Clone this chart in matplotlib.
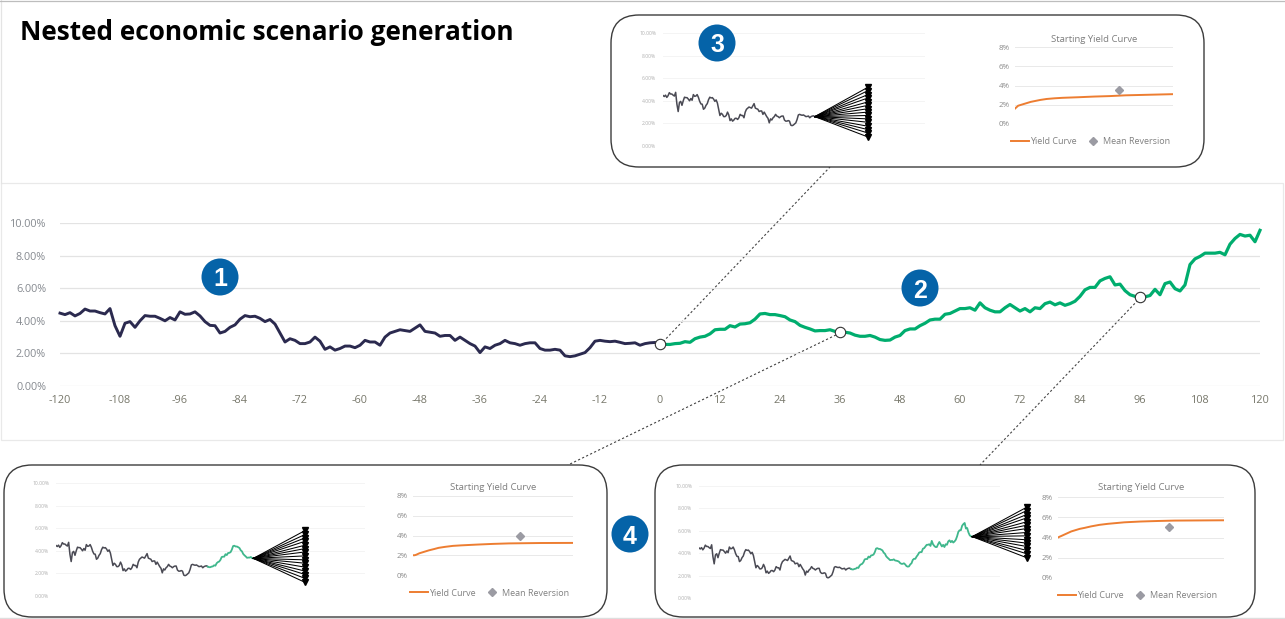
import matplotlib
matplotlib.use("Agg")
import matplotlib.pyplot as plt
import matplotlib.patches as patches
import numpy as np

# monthly short rate path, history then projection (percent)
hist_months = list(range(-120, 1))
hist_rate = [4.47, 4.38, 4.50, 4.30, 4.45, 4.72, 4.60, 4.60, 4.50, 4.42, 4.75, 3.70,
             3.05, 3.85, 3.95, 3.60, 4.00, 4.32, 4.28, 4.28, 4.15, 4.00, 4.20, 4.05,
             4.55, 4.40, 4.42, 4.55, 4.30, 3.95, 3.72, 3.70, 3.25, 3.35, 3.60, 3.75,
             4.10, 4.32, 4.25, 4.28, 4.15, 3.95, 4.08, 3.80, 3.25, 2.70, 2.90, 2.80,
             2.60, 2.60, 2.70, 3.00, 2.75, 2.25, 2.40, 2.20, 2.30, 2.45, 2.45, 2.35,
             2.50, 2.80, 2.70, 2.70, 2.50, 3.00, 3.25, 3.35, 3.45, 3.40, 3.35, 3.55,
             3.75, 3.35, 3.30, 3.25, 3.05, 3.10, 3.10, 2.80, 3.00, 2.80, 2.60, 2.45,
             2.05, 2.40, 2.30, 2.50, 2.60, 2.80, 2.65, 2.60, 2.50, 2.60, 2.65, 2.65,
             2.30, 2.20, 2.20, 2.25, 2.20, 1.85, 1.80, 1.85, 1.95, 2.05, 2.35, 2.75,
             2.80, 2.75, 2.72, 2.75, 2.68, 2.60, 2.62, 2.65, 2.50, 2.60, 2.65, 2.67,
             2.60]
proj_months = list(range(0, 121))
proj_rate = [2.60, 2.55, 2.55, 2.60, 2.62, 2.72, 2.68, 2.90, 3.00, 3.05, 3.20, 3.45,
             3.48, 3.48, 3.70, 3.62, 3.80, 3.82, 3.88, 4.10, 4.42, 4.45, 4.38, 4.38,
             4.32, 4.25, 4.05, 3.95, 3.72, 3.60, 3.50, 3.38, 3.40, 3.40, 3.45, 3.35,
             3.33, 3.30, 3.25, 3.12, 3.05, 3.05, 3.10, 3.00, 2.85, 2.80, 2.82, 3.00,
             3.10, 3.40, 3.50, 3.50, 3.70, 3.85, 4.05, 4.10, 4.10, 4.40, 4.45, 4.60,
             4.75, 4.75, 4.80, 4.65, 5.10, 4.80, 4.65, 4.55, 4.55, 4.80, 5.00, 4.80,
             4.60, 4.75, 4.55, 4.80, 4.75, 5.05, 5.15, 4.98, 5.10, 4.95, 5.05, 5.20,
             5.50, 5.90, 6.05, 6.05, 6.45, 6.60, 6.70, 6.20, 6.25, 5.85, 5.60, 5.50,
             5.48, 5.47, 5.55, 5.93, 5.60, 6.28, 6.38, 5.97, 5.83, 6.20, 7.45, 7.80,
             7.95, 8.15, 8.15, 8.15, 8.20, 8.05, 8.70, 9.05, 9.30, 9.20, 9.25, 8.85,
             9.55]

# nodes where the nested scenarios branch off
node_months = [0, 36, 96]

main_yticks = [0, 2, 4, 6, 8, 10]
main_ylabels = ["0.00%", "2.00%", "4.00%", "6.00%", "8.00%", "10.00%"]
main_xticks = list(range(-120, 121, 12))

# fan end values of the inner scenarios at each node
fan_ends_0 = [5.2, 4.9, 4.55, 4.25, 3.9, 3.6, 3.3, 3.0, 2.7, 2.4, 2.1, 1.75, 1.45, 1.15, 0.8]
fan_ends_36 = [5.8, 5.45, 5.15, 4.85, 4.5, 4.2, 3.9, 3.55, 3.2, 2.9, 2.55, 2.2, 1.9, 1.55, 1.2]
fan_ends_96 = [8.1, 7.8, 7.45, 7.15, 6.8, 6.5, 6.2, 5.85, 5.55, 5.2, 4.9, 4.6, 4.25, 3.95, 3.6]

# starting yield curves, one per node
curve_terms = [0, 1, 2, 4, 6, 8, 10, 13, 16, 20, 25, 30, 40, 50, 60, 70, 80, 100]
curve_0 = [1.6, 1.75, 1.9, 2.0, 2.1, 2.2, 2.3, 2.4, 2.5, 2.6, 2.67, 2.72, 2.78, 2.85, 2.9, 2.98, 3.02, 3.1]
curve_36 = [2.0, 2.0, 2.05, 2.2, 2.3, 2.4, 2.5, 2.62, 2.75, 2.85, 2.95, 3.0, 3.08, 3.15, 3.2, 3.22, 3.24, 3.25]
curve_96 = [4.0, 4.08, 4.15, 4.3, 4.45, 4.6, 4.7, 4.85, 4.95, 5.1, 5.25, 5.35, 5.5, 5.58, 5.63, 5.67, 5.68, 5.7]
curve_ticks = [0, 2, 4, 6, 8]
curve_labels = ["0%", "2%", "4%", "6%", "8%"]
mean_term = [66, 67, 67]
mean_level = [3.5, 4.0, 5.0]

W, H = 1285, 619
NAVY = "#2b2a4f"
GREEN = "#00ad6e"
FADED_GREEN = "#3fb78c"
BLUE = "#0563a8"
ORANGE = "#ed7d31"
GRID = "#e3e3e3"

plt.rcParams["font.family"] = ["Open Sans", "DejaVu Sans"]

fig = plt.figure(figsize=(W / 100, H / 100), dpi=100, facecolor="white")


def px_axes(x0, y0, x1, y1):
    # axes placed with pixel edges, y measured from the top
    return fig.add_axes([x0 / W, 1 - y1 / H, (x1 - x0) / W, (y1 - y0) / H])


# overlay in pixel units for boxes, leader lines and badges
back = fig.add_axes([0, 0, 1, 1], zorder=0)
back.set_xlim(0, W)
back.set_ylim(H, 0)
back.axis("off")

front = fig.add_axes([0, 0, 1, 1], zorder=10)
front.set_xlim(0, W)
front.set_ylim(H, 0)
front.axis("off")
front.patch.set_alpha(0)

badges = fig.add_axes([0, 0, 1, 1], zorder=20)
badges.set_xlim(0, W)
badges.set_ylim(H, 0)
badges.axis("off")
badges.patch.set_alpha(0)

# faint slide panels
back.add_patch(patches.Rectangle((1, 183), 1282, 257, fc="none", ec="#e9e9e9", lw=0.9))
back.plot([1, 1], [0, 183], color="#e4e4e4", lw=0.9)
back.plot([0, W], [0.5, 0.5], color="#bdbdbd", lw=0.9)
back.plot([0, W], [618, 618], color="#dedede", lw=1.0)

back.text(20, 32.5, "Nested economic scenario generation", fontsize=18.95, fontweight="bold",
          color="black", va="center", ha="left")

# main chart
ax = px_axes(60, 223, 1260, 386)
ax.set_xlim(-120, 120)
ax.set_ylim(0, 10)
ax.patch.set_alpha(0)
for s in ax.spines.values():
    s.set_visible(False)
ax.set_yticks(main_yticks)
ax.set_yticklabels(main_ylabels, color="#868a90", fontsize=7.8)
ax.set_xticks(main_xticks)
ax.set_xticklabels([str(t) for t in main_xticks], color="#77776a", fontsize=7.8)
ax.tick_params(axis="both", length=0)
ax.tick_params(axis="y", pad=10)
ax.tick_params(axis="x", pad=6.5)
ax.grid(axis="y", color=GRID, lw=0.9)
ax.set_axisbelow(True)
ax.plot(hist_months, hist_rate, color=NAVY, lw=2.1, clip_on=False, solid_joinstyle="round")
ax.plot(proj_months, proj_rate, color=GREEN, lw=2.3, clip_on=False, solid_joinstyle="round")


def draw_nested(box, path_rect, curve_rect, node, fan_ends, fan_x, curve, mean_x, mean_y, title_y, legend_y):
    front.add_patch(patches.FancyBboxPatch(
        (box[0] + 28, box[1] + 28), box[2] - box[0] - 56, box[3] - box[1] - 56,
        boxstyle="round,pad=28,rounding_size=28", fc="white", ec="#3c3c3c", lw=1.0, zorder=1))

    # simulated path with the inner scenario fan
    a = px_axes(*path_rect)
    a.set_zorder(12)
    a.patch.set_alpha(0)
    a.set_xlim(-120, (path_rect[2] - path_rect[0]) / 1.265 - 120)
    a.set_ylim(0, 10)
    for s in a.spines.values():
        s.set_visible(False)
    a.set_yticks(main_yticks)
    a.set_yticklabels(main_ylabels, fontsize=3.6, color="#b0b0b0")
    a.set_xticks([])
    a.tick_params(axis="y", length=0, pad=5)
    a.grid(axis="y", color="#f4f4f4", lw=0.7)
    a.plot(hist_months, hist_rate, color="#4a4a54", lw=1.1)
    if node > 0:
        a.plot(proj_months[:node + 1], proj_rate[:node + 1], color=FADED_GREEN, lw=1.3)
    start = proj_rate[node]
    for end in fan_ends:
        a.plot([node, fan_x], [start, end], color="black", lw=0.75, clip_on=False)
    a.plot([fan_x] * len(fan_ends), fan_ends, ls="none", marker="v", ms=4.5, color="black", clip_on=False)

    # starting yield curve
    c = px_axes(*curve_rect)
    c.set_zorder(11)
    c.patch.set_alpha(0)
    c.set_xlim(0, 100)
    c.set_ylim(0, 8)
    for s in c.spines.values():
        s.set_visible(False)
    c.set_yticks(curve_ticks)
    c.set_yticklabels(curve_labels, fontsize=5.8, color="#8a8a8a")
    c.set_xticks([])
    c.tick_params(axis="y", length=0, pad=4)
    c.grid(axis="y", color="#e9e9e9", lw=0.7)
    line, = c.plot(curve_terms, curve, color=ORANGE, lw=1.4, label="Yield Curve")
    pt, = c.plot([mean_x], [mean_y], ls="none", marker="D", ms=3.8, color="#9b9ba3", label="Mean Reversion")
    mid = (curve_rect[0] + curve_rect[2]) / 2
    front.text(mid, title_y, "Starting Yield Curve", fontsize=6.8, color="#7d7d7d",
               ha="center", va="center", zorder=12)
    c.legend(handles=[line, pt], ncol=2, frameon=False, fontsize=6.5, labelcolor="#808080",
             loc="center", bbox_to_anchor=(0.48, (curve_rect[3] - legend_y) / (curve_rect[3] - curve_rect[1])),
             columnspacing=0.8, handlelength=2.0, handletextpad=0.1, borderpad=0)


# nested panels, one per node
draw_nested((611, 15, 1204, 167), (663, 33, 925, 146), (1015, 47, 1173, 124), 0,
            fan_ends_0, 42, curve_0, mean_term[0], mean_level[0], 39, 142)
draw_nested((4, 465, 607, 617), (56, 483, 365, 596), (413, 496, 573, 575), 36,
            fan_ends_36, 77, curve_36, mean_term[1], mean_level[1], 488, 593)
draw_nested((655, 465, 1255, 617), (699, 486, 1000, 598), (1058, 497, 1224, 578), 96,
            fan_ends_96, 139, curve_96, mean_term[2], mean_level[2], 488, 596)

# leader lines from the branching nodes to their panels
leaders = [((660, 345), (830, 167)), ((840, 333), (568, 465)), ((1141, 297), (980, 465))]
for p, q in leaders:
    front.plot([p[0], q[0]], [p[1], q[1]], color="#444444", lw=0.8, ls=(0, (2, 2)), zorder=0.5)

# open markers on the path at the nodes
ax.set_zorder(10.5)
ax.plot(node_months, [proj_rate[m] for m in node_months], ls="none", marker="o", ms=7.5,
        mfc="white", mec="#333333", mew=0.8, clip_on=False, zorder=5)

# numbered badges
for n, x, y in [("1", 220, 277), ("2", 920, 288), ("3", 717, 43), ("4", 630, 534)]:
    badges.add_patch(patches.Circle((x, y), 18.5, fc=BLUE, ec="none", zorder=20))
    badges.text(x, y, n, color="white", fontsize=18, fontweight="bold", family="Liberation Sans",
                ha="center", va="center_baseline", zorder=21)

fig.savefig("out.png", dpi=100)
plt.close(fig)
